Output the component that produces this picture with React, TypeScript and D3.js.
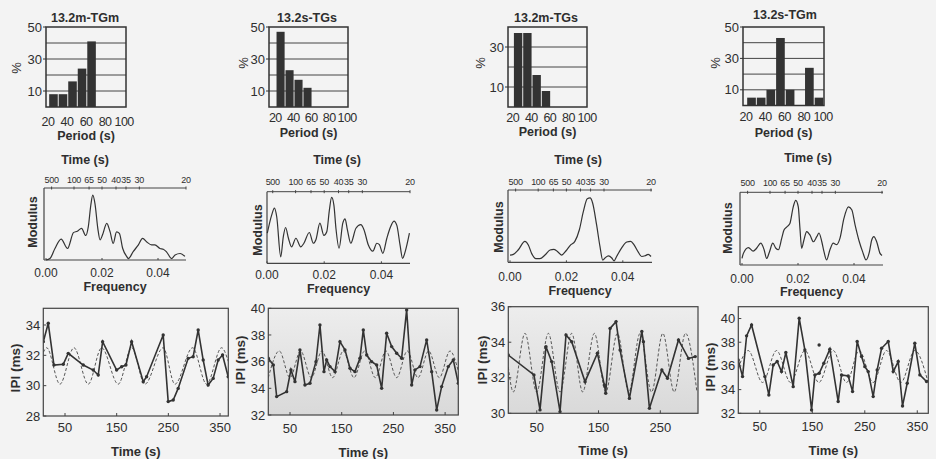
import React from 'react'
import * as d3 from 'd3'

// panel titles and tick labels
const titles = ['13.2m-TGm', '13.2s-TGs', '13.2m-TGs', '13.2s-TGm']
const binCenters = [25, 35, 45, 55, 65, 75, 85, 95]
const periodTicks = [20, 40, 60, 80, 100]
const topPeriods = [500, 100, 65, 50, 40, 35, 30, 20]
const freqTicks = [0, 0.02, 0.04]
const timeTicks = [50, 150, 250, 350]

// histograms (% of periods per 10 s bin)
const hist1 = [8, 8, 16, 24, 41]
const hist2 = [47, 23, 17, 12]
const hist3 = [37, 37, 16, 8]
const hist4 = [5, 5, 10, 43, 10, 0, 24, 5]

// spectra (frequency, normalised modulus)
const spec1Freq = [0, 0.0014, 0.0032, 0.0054, 0.0077, 0.0098, 0.0112, 0.0127, 0.0142, 0.0151, 0.016, 0.0167, 0.0175, 0.0185, 0.0193, 0.0202, 0.0217, 0.0229, 0.024, 0.0252, 0.0262, 0.0274, 0.0288, 0.0294, 0.0312, 0.033, 0.0345, 0.036, 0.0377, 0.0389, 0.0407, 0.0419, 0.0431, 0.0449, 0.0461, 0.0479, 0.0496]
const spec1Mod = [0, 0.02, 0.16, 0.29, 0.16, 0.38, 0.4, 0.44, 0.34, 0.46, 0.76, 0.9, 0.78, 0.44, 0.28, 0.35, 0.51, 0.39, 0.23, 0.39, 0.37, 0.16, 0.05, 0.02, 0.12, 0.21, 0.3, 0.25, 0.21, 0.21, 0.16, 0.15, 0.11, 0.02, 0.07, 0.09, 0.05]

const spec2Freq = [0.0001, 0.0016, 0.0026, 0.0034, 0.0048, 0.0057, 0.0065, 0.0075, 0.0086, 0.0101, 0.0118, 0.0129, 0.0148, 0.0162, 0.0171, 0.0185, 0.0199, 0.0209, 0.0218, 0.0226, 0.0234, 0.0241, 0.0252, 0.0265, 0.0273, 0.0281, 0.0293, 0.0311, 0.0328, 0.0339, 0.0354, 0.037, 0.0384, 0.0393, 0.0405, 0.0419, 0.043, 0.0444, 0.0454, 0.0465, 0.0474, 0.0483, 0.0498]
const spec2Mod = [0.42, 0.67, 0.77, 0.65, 0.09, 0.37, 0.5, 0.35, 0.23, 0.35, 0.23, 0.28, 0.43, 0.28, 0.33, 0.56, 0.39, 0.44, 0.74, 0.92, 0.81, 0.49, 0.21, 0.56, 0.62, 0.47, 0.28, 0.49, 0.54, 0.47, 0.26, 0.17, 0.28, 0.26, 0.14, 0.35, 0.49, 0.59, 0.53, 0.26, 0.07, 0.16, 0.42]

const spec3Freq = [0, 0.0012, 0.0029, 0.0053, 0.0065, 0.0077, 0.0092, 0.0106, 0.0124, 0.0142, 0.0156, 0.0171, 0.0183, 0.0199, 0.0215, 0.023, 0.0246, 0.026, 0.0274, 0.0284, 0.0293, 0.0307, 0.0319, 0.0329, 0.0337, 0.0349, 0.0361, 0.0369, 0.0378, 0.0396, 0.0414, 0.0428, 0.044, 0.0455, 0.0467, 0.0479, 0.049, 0.05]
const spec3Mod = [0.1, 0.11, 0.17, 0.29, 0.24, 0.12, 0.05, 0.05, 0.1, 0.17, 0.18, 0.14, 0.1, 0.16, 0.24, 0.29, 0.45, 0.7, 0.88, 0.89, 0.82, 0.52, 0.22, 0.03, 0.06, 0.09, 0.06, 0.02, 0.08, 0.2, 0.28, 0.29, 0.24, 0.14, 0.08, 0.09, 0.11, 0.08]

const spec4Freq = [0, 0.0005, 0.0023, 0.004, 0.0052, 0.0067, 0.0079, 0.0088, 0.0098, 0.011, 0.0121, 0.013, 0.0142, 0.015, 0.0162, 0.0171, 0.0183, 0.0192, 0.0201, 0.0207, 0.0213, 0.0221, 0.0231, 0.0243, 0.0255, 0.0267, 0.0275, 0.0285, 0.0293, 0.0302, 0.0314, 0.0326, 0.0338, 0.035, 0.0364, 0.038, 0.0392, 0.0404, 0.0419, 0.0431, 0.0443, 0.0455, 0.0463, 0.0471, 0.0481, 0.0493, 0.05]
const spec4Mod = [0.09, 0.16, 0.24, 0.19, 0.23, 0.3, 0.21, 0.09, 0.18, 0.3, 0.23, 0.21, 0.37, 0.48, 0.53, 0.57, 0.8, 0.89, 0.8, 0.5, 0.23, 0.34, 0.46, 0.41, 0.32, 0.39, 0.44, 0.32, 0.18, 0.07, 0.21, 0.3, 0.28, 0.37, 0.64, 0.8, 0.76, 0.55, 0.32, 0.18, 0.07, 0.18, 0.34, 0.39, 0.32, 0.16, 0.13]

// inter-pulse intervals (time s, IPI ms) and the fitted oscillation (extrema)
const ipi1Time = [8, 17.6, 28.6, 46.6, 56.3, 85.3, 104.6, 114.3, 122.8, 149.9, 159.6, 167.9, 178.9, 201.4, 207.9, 240, 249.7, 259.4, 269, 288.4, 298, 307.7, 317.4, 327, 336.7, 346.4, 354.9, 365.8]
const ipi1Val = [32.9, 34.11, 31.36, 31.41, 32.13, 31.36, 31.03, 30.7, 32.9, 31.03, 31.25, 31.36, 32.9, 30.26, 30.59, 33.34, 28.95, 29.05, 29.82, 31.8, 31.91, 33.67, 31.69, 30.04, 30.48, 31.69, 32.02, 30.59]
const fit1Time = [8, 14.5, 40.2, 67.3, 95, 120.9, 153, 179, 204.6, 240, 262.7, 297, 324, 353, 366]
const fit1Val = [32.2, 32.5, 30.1, 32.5, 30.1, 32.5, 30.1, 32.5, 30.1, 32.5, 30.1, 32.5, 30.1, 32.5, 31.6]

const ipi2Time = [8, 17.7, 24.2, 43.5, 51.8, 59.6, 69.2, 78.9, 88.6, 100.2, 107.9, 115.7, 120.9, 127.3, 137, 146.6, 156.3, 166, 175.6, 185.3, 191.7, 198.3, 207.9, 217.6, 227.3, 236.9, 246.6, 256.3, 265.9, 275.6, 285.3, 291.7, 301.4, 314.3, 324, 333.7, 343.3, 356.1, 365.8, 375.5]
const ipi2Val = [36.25, 35.75, 33.38, 33.75, 35.38, 34.5, 36.88, 34.25, 34.38, 36.0, 38.75, 35.25, 36.13, 35.63, 35.25, 37.5, 36.88, 35.5, 35.25, 36.25, 38.38, 36.5, 36.0, 35.75, 34.0, 38.13, 37.13, 36.63, 36.25, 39.88, 34.25, 35.38, 35.63, 37.63, 35.25, 32.38, 34.13, 35.63, 36.13, 34.38]
const fit2Time = [8, 29.3, 49.9, 70.5, 91.2, 111.8, 132.5, 153.1, 173.7, 194.4, 215, 235.6, 256.3, 276.9, 297.5, 318.2, 338.8, 359.5, 375.5]
const fit2Val = [34.8, 36.8, 34.8, 36.8, 34.8, 36.8, 34.8, 36.8, 34.8, 36.8, 34.8, 36.8, 34.8, 36.8, 34.8, 36.8, 34.8, 36.8, 35.3]

const ipi3Time = [3.9, 45.5, 55.3, 65, 74.2, 87.7, 97.4, 106.6, 128.2, 148.2, 159.5, 161.7, 168.7, 178.4, 184.9, 200, 220.1, 222.7, 232.4, 252.5, 261.6, 279.4, 295.6, 306.5]
const ipi3Val = [33.28, 32.16, 30.19, 33.75, 32.91, 30.09, 34.41, 34.03, 31.78, 33.38, 31.59, 31.13, 34.78, 35.16, 33.56, 30.84, 34.6, 34.03, 30.28, 32.44, 31.97, 34.13, 33.09, 33.19]
const fit3Time = [4, 12, 31, 49.9, 68.8, 87.7, 106.6, 124.4, 143.3, 161.7, 180.6, 199, 217.3, 235.8, 254.1, 272.5, 290.8, 309.3]
const fit3Val = [32.6, 31.2, 34.5, 31.2, 34.5, 31.2, 34.5, 31.2, 34.5, 31.2, 34.5, 31.2, 34.5, 31.2, 34.5, 31.2, 34.5, 31.2]

const ipi4Time = [8.8, 17.1, 24.8, 34.3, 59.6, 67.2, 75.5, 83.1, 91.4, 99.6, 113.6, 125, 135.8, 148.6, 154.9, 163.1, 172, 183.4, 199.3, 205.7, 218.4, 226.7, 235.5, 243.8, 250.1, 256.5, 266, 273.6, 282, 294.7, 304.2, 313.7, 321.9, 330.8, 345.3, 354.9, 367.6]
const ipi4Val = [36.51, 35.1, 38.54, 39.46, 35.1, 33.55, 36.08, 36.37, 35.52, 37.13, 34.25, 40.03, 37.35, 32.28, 35.24, 35.38, 36.23, 37.41, 32.99, 35.24, 35.15, 33.83, 38.06, 36.79, 35.94, 35.52, 33.41, 35.66, 37.49, 38.06, 35.52, 36.37, 32.62, 34.54, 37.92, 35.24, 34.68]
const fit4Time = [8.8, 27.9, 55.2, 81.9, 108.6, 135.8, 162.5, 189.8, 215.2, 239.3, 266, 291.4, 318.7, 345.3, 370.7]
const fit4Val = [35.8, 37.3, 34.6, 37.3, 34.6, 37.3, 34.6, 37.3, 34.6, 37.3, 34.6, 37.3, 34.6, 37.3, 34.6]
const stray4Time = [163]
const stray4Val = [37.77]

const FONT = "'Liberation Sans', Arial, Helvetica, sans-serif"
const INK = '#2e2e2e'

const histLayouts = [
  { x0: 46, x1: 126, y0: 27, y1: 107, xDom: [18, 102], yMax: 50, yTicks: [10, 30, 50], tx: 85, ty: 18, px: 16, py: 68, xly: 122, ply: 136 },
  { x0: 269, x1: 348, y0: 27, y1: 107, xDom: [13, 101], yMax: 50, yTicks: [10, 30, 50], tx: 307, ty: 18, px: 243, py: 63, xly: 118, ply: 133 },
  { x0: 508, x1: 587, y0: 27, y1: 107, xDom: [15, 100], yMax: 40, yTicks: [10, 30], tx: 546, ty: 18, px: 480, py: 63, xly: 118, ply: 132 },
  { x0: 743, x1: 824, y0: 27, y1: 105.5, xDom: [17, 101], yMax: 50, yTicks: [10, 30, 50], tx: 785, ty: 15, px: 715, py: 63, xly: 117, ply: 133 },
]
const specLayouts = [
  { x0: 44, x1: 186, y0: 188, y1: 260, fr: [46, 186], tx: 85, ty: 160, tly: 180, bly: 273, fy: 287, mx: 33, my: 222 },
  { x0: 267, x1: 410, y0: 191.7, y1: 263.3, fr: [267, 410], tx: 337, ty: 160, tly: 182, bly: 275, fy: 289, mx: 258, my: 230 },
  { x0: 508, x1: 652, y0: 190, y1: 262.3, fr: [510, 651], tx: 578, ty: 160, tly: 182, bly: 277, fy: 291, mx: 499, my: 227 },
  { x0: 740, x1: 883, y0: 192.3, y1: 265, fr: [742, 882], tx: 808, ty: 158, tly: 183, bly: 279, fy: 292, mx: 728, my: 228 },
]
const seriesLayouts = [
  { x0: 43.3, x1: 228.3, y0: 308.3, y1: 416, tDom: [8, 366], vDom: [28, 35.1], yTicks: [28, 30, 32, 34], xly: 427, tly: 451, ix: 15, iy: 368, shade: false },
  { x0: 268.3, x1: 458.3, y0: 308.3, y1: 415, tDom: [8, 375.5], vDom: [32, 40], yTicks: [32, 34, 36, 38, 40], xly: 428, tly: 452, ix: 240, iy: 360, shade: true },
  { x0: 508.3, x1: 698, y0: 306.7, y1: 413.3, tDom: [4, 311], vDom: [30, 36], yTicks: [30, 32, 34, 36], xly: 427, tly: 450, ix: 482, iy: 360, shade: true },
  { x0: 738.3, x1: 928.3, y0: 306.7, y1: 413.3, tDom: [9, 371], vDom: [32, 41], yTicks: [32, 34, 36, 38, 40], xly: 426, tly: 450, ix: 710, iy: 367, shade: false },
]

const hists = [hist1, hist2, hist3, hist4]
const specs = [[spec1Freq, spec1Mod], [spec2Freq, spec2Mod], [spec3Freq, spec3Mod], [spec4Freq, spec4Mod]]
const ipis = [[ipi1Time, ipi1Val], [ipi2Time, ipi2Val], [ipi3Time, ipi3Val], [ipi4Time, ipi4Val]]
const fits = [[fit1Time, fit1Val], [fit2Time, fit2Val], [fit3Time, fit3Val], [fit4Time, fit4Val]]

function Hist({ lay, values, title }: any) {
  const x = d3.scaleLinear().domain(lay.xDom).range([lay.x0, lay.x1])
  const y = d3.scaleLinear().domain([0, lay.yMax]).range([lay.y1, lay.y0])
  const grid = y.ticks(lay.yMax / 10).filter((g) => g > 0 && g < lay.yMax)
  return (
    <g>
      {grid.map((g) => (
        <line key={g} x1={lay.x0} x2={lay.x1} y1={y(g)} y2={y(g)} stroke="#444" strokeWidth={1} />
      ))}
      {values.map((v: number, i: number) => (
        <rect key={i} x={x(binCenters[i] - 4.5) + 0.8} width={x(binCenters[i] + 4.5) - x(binCenters[i] - 4.5)}
          y={y(v)} height={lay.y1 - y(v)} fill="#333" />
      ))}
      <rect x={lay.x0} y={lay.y0} width={lay.x1 - lay.x0} height={lay.y1 - lay.y0} fill="none" stroke="#333" strokeWidth={1.5} />
      {lay.yTicks.map((t: number) => (
        <g key={t}>
          <line x1={lay.x0 - 3} x2={lay.x0} y1={y(t)} y2={y(t)} stroke="#333" />
          <text x={lay.x0 - 4} y={y(t)} dy="0.35em" textAnchor="end" fontSize={13}>{t}</text>
        </g>
      ))}
      {periodTicks.map((t) => (
        <text key={t} x={x(t)} y={lay.xly} dy="0.35em" textAnchor="middle" fontSize={12.5} letterSpacing={-0.6}>{t}</text>
      ))}
      <text x={lay.tx} y={lay.ty} dy="0.35em" textAnchor="middle" fontSize={12.5} fontWeight="bold">{title}</text>
      <text transform={`translate(${lay.px},${lay.py}) rotate(-90)`} dy="0.35em" textAnchor="middle" fontSize={13}>%</text>
      <text x={(lay.x0 + lay.x1) / 2} y={lay.ply} dy="0.35em" textAnchor="middle" fontSize={12.5} fontWeight="bold">Period (s)</text>
    </g>
  )
}

function Spectrum({ lay, freq, mod }: any) {
  const x = d3.scaleLinear().domain([0, 0.05]).range(lay.fr)
  const y = d3.scaleLinear().domain([0, 1]).range([lay.y1, lay.y0])
  const line = d3.line<[number, number]>().x((d) => x(d[0])).y((d) => y(d[1])).curve(d3.curveMonotoneX)
  const pts = d3.zip(freq, mod) as [number, number][]
  return (
    <g>
      <line x1={lay.x0} x2={lay.x1} y1={lay.y0} y2={lay.y0} stroke="#444" strokeWidth={1} />
      <line x1={lay.x0} x2={lay.x1} y1={lay.y1} y2={lay.y1} stroke="#444" strokeWidth={1.2} />
      <line x1={lay.x0} x2={lay.x0} y1={lay.y0} y2={lay.y1} stroke="#444" strokeWidth={1.2} />
      {topPeriods.map((p) => (
        <g key={p}>
          <line x1={x(1 / p)} x2={x(1 / p)} y1={lay.y0 - 1.5} y2={lay.y0 + 1.5} stroke="#444" />
          <text x={x(1 / p)} y={lay.tly} dy="0.35em" textAnchor="middle" fontSize={9} letterSpacing={-0.3}>{p}</text>
        </g>
      ))}
      {freqTicks.map((f) => (
        <g key={f}>
          <line x1={x(f)} x2={x(f)} y1={lay.y1} y2={lay.y1 - 2} stroke="#444" />
          <text x={x(f)} y={lay.bly} dy="0.35em" textAnchor="middle" fontSize={12}>{f.toFixed(2)}</text>
        </g>
      ))}
      <path d={line(pts) || ''} fill="none" stroke="#333" strokeWidth={1.2} />
      <text x={lay.tx} y={lay.ty} dy="0.35em" textAnchor="middle" fontSize={12.5} fontWeight="bold">Time (s)</text>
      <text x={(lay.x0 + lay.x1) / 2} y={lay.fy} dy="0.35em" textAnchor="middle" fontSize={12.5} fontWeight="bold">Frequency</text>
      <text transform={`translate(${lay.mx},${lay.my}) rotate(-90)`} dy="0.35em" textAnchor="middle" fontSize={12.5} fontWeight="bold">Modulus</text>
    </g>
  )
}

function Series({ lay, ipi, fit, stray, id }: any) {
  const x = d3.scaleLinear().domain(lay.tDom).range([lay.x0, lay.x1])
  const y = d3.scaleLinear().domain(lay.vDom).range([lay.y1, lay.y0])
  const solid = d3.line<[number, number]>().x((d) => x(d[0])).y((d) => y(d[1]))
  const dashed = d3.line<[number, number]>().x((d) => x(d[0])).y((d) => y(d[1])).curve(d3.curveMonotoneX)
  const pts = d3.zip(ipi[0], ipi[1]) as [number, number][]
  const fpts = d3.zip(fit[0], fit[1]) as [number, number][]
  const spts = stray ? (d3.zip(stray[0], stray[1]) as [number, number][]) : []
  return (
    <g>
      <defs>
        <clipPath id={`clip${id}`}>
          <rect x={lay.x0} y={lay.y0} width={lay.x1 - lay.x0} height={lay.y1 - lay.y0} />
        </clipPath>
        <linearGradient id={`shade${id}`} x1="0" x2="0" y1="0" y2="1">
          <stop offset="0" stopColor="#ededed" />
          <stop offset="1" stopColor="#d9d9d9" />
        </linearGradient>
      </defs>
      {lay.shade && (
        <rect x={lay.x0} y={lay.y0} width={lay.x1 - lay.x0} height={lay.y1 - lay.y0} fill={`url(#shade${id})`} />
      )}
      <g clipPath={`url(#clip${id})`}>
        <path d={dashed(fpts) || ''} fill="none" stroke="#555" strokeWidth={1} strokeDasharray="3,2" />
        <path d={solid(pts) || ''} fill="none" stroke="#333" strokeWidth={1.6} />
        {pts.map((d, i) => (
          <circle key={i} cx={x(d[0])} cy={y(d[1])} r={1.7} fill="#333" />
        ))}
      </g>
      {spts.map((d, i) => (
        <circle key={'s' + i} cx={x(d[0])} cy={y(d[1])} r={1.7} fill="#333" />
      ))}
      <rect x={lay.x0} y={lay.y0} width={lay.x1 - lay.x0} height={lay.y1 - lay.y0} fill="none" stroke="#444" strokeWidth={1.2} />
      {lay.yTicks.map((t: number) => (
        <g key={t}>
          <line x1={lay.x0} x2={lay.x0 + 3} y1={y(t)} y2={y(t)} stroke="#444" />
          <text x={lay.x0 - 3} y={y(t)} dy="0.35em" textAnchor="end" fontSize={13}>{t}</text>
        </g>
      ))}
      {timeTicks.filter((t) => t <= lay.tDom[1]).map((t) => (
        <g key={t}>
          <line x1={x(t)} x2={x(t)} y1={lay.y1} y2={lay.y1 - 3} stroke="#444" />
          <text x={x(t)} y={lay.xly} dy="0.35em" textAnchor="middle" fontSize={13}>{t}</text>
        </g>
      ))}
      <text x={(lay.x0 + lay.x1) / 2} y={lay.tly} dy="0.35em" textAnchor="middle" fontSize={13} fontWeight="bold">Time (s)</text>
      <text transform={`translate(${lay.ix},${lay.iy}) rotate(-90)`} dy="0.35em" textAnchor="middle" fontSize={13.5} fontWeight="bold">IPI (ms)</text>
    </g>
  )
}

export default function App() {
  return (
    <svg width={936} height={459} style={{ position: 'absolute', left: 0, top: 0 }}
      fontFamily={FONT} fill={INK}>
      <rect width={936} height={459} fill="#f3f3f3" />
      {titles.map((title, i) => (
        <g key={i}>
          <Hist lay={histLayouts[i]} values={hists[i]} title={title} />
          <Spectrum lay={specLayouts[i]} freq={specs[i][0]} mod={specs[i][1]} />
          <Series lay={seriesLayouts[i]} ipi={ipis[i]} fit={fits[i]} stray={i === 3 ? [stray4Time, stray4Val] : null} id={i} />
        </g>
      ))}
    </svg>
  )
}
